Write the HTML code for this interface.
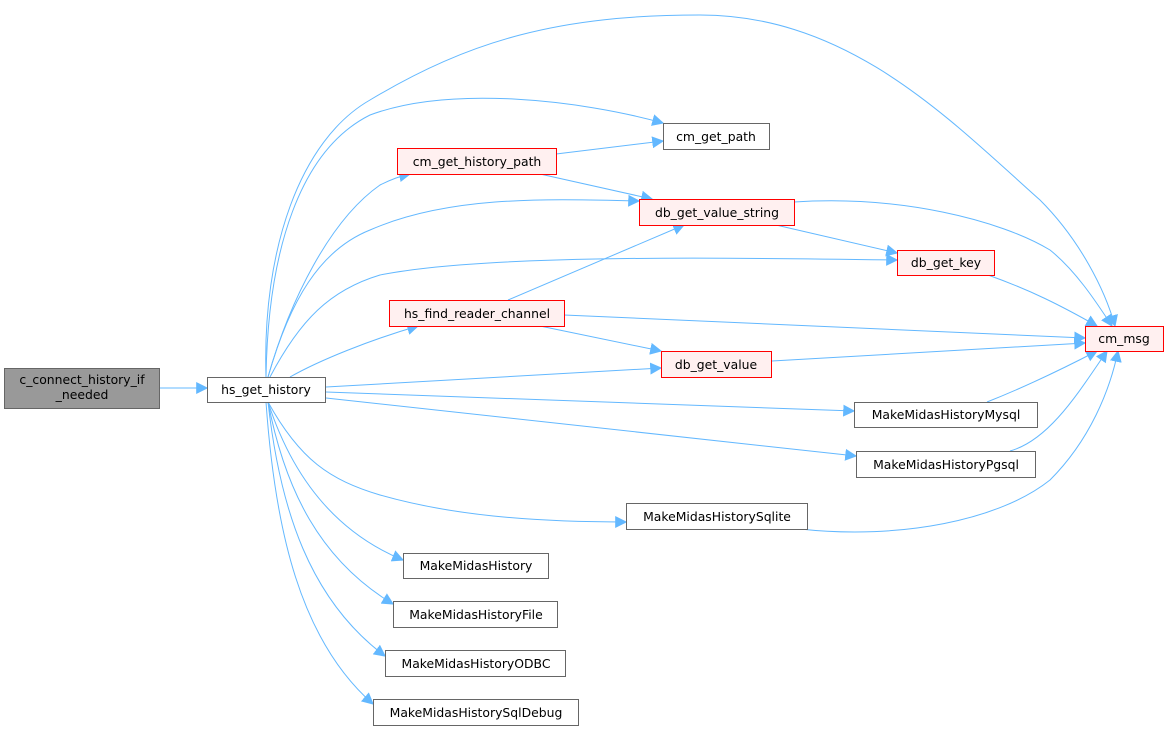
<!DOCTYPE html>
<html><head><meta charset="utf-8"><style>
body{margin:0;background:#fff;width:1168px;height:733px;overflow:hidden}
svg{display:block}
text{font-family:"DejaVu Sans","Liberation Sans",sans-serif;font-size:12.4px;fill:#000}
</style></head><body>
<svg width="1168" height="733" viewBox="0 0 1168 733">
<defs><marker id="a" viewBox="0 0 10 10" refX="9" refY="5" markerWidth="12" markerHeight="12" markerUnits="userSpaceOnUse" orient="auto"><path d="M0,0 L10,5 L0,10 z" fill="#63b8ff"/></marker></defs>
<g fill="none" stroke="#63b8ff" stroke-width="1" marker-end="url(#a)">
<path d="M160,388 L207,388"/>
<path d="M266,377 C262,250 300,140 370,100 C470,40 560,15 700,15 C850,15 950,120 1040,200 C1080,240 1105,290 1115,326"/>
<path d="M266,377 C268,250 300,150 370,115 C450,85 580,100 663,123"/>
<path d="M268,377 C290,300 330,220 380,185 C390,180 400,176 410,174"/>
<path d="M268,377 C290,300 320,250 370,230 C450,195 550,199 639,201"/>
<path d="M270,377 C300,320 330,290 380,275 C480,255 700,257 897,260"/>
<path d="M290,377 C320,360 370,340 418,326"/>
<path d="M326,387 L661,368"/>
<path d="M326,392 L854,411"/>
<path d="M326,398 L856,456"/>
<path d="M268,402 C300,460 330,480 380,495 C450,515 530,522 626,522"/>
<path d="M268,402 C290,470 330,530 403,560"/>
<path d="M268,402 C285,490 320,560 393,604"/>
<path d="M268,402 C280,510 310,600 385,656"/>
<path d="M266,402 C275,530 300,640 373,704"/>
<path d="M556,154 L663,141"/>
<path d="M540,174 L652,199"/>
<path d="M508,300 L684,225"/>
<path d="M564,315 L1085,338"/>
<path d="M540,326 L661,351"/>
<path d="M794,202 C900,195 1000,220 1050,250 C1075,270 1095,300 1112,326"/>
<path d="M776,225 L897,253"/>
<path d="M988,275 C1030,290 1060,305 1097,326"/>
<path d="M772,361 L1085,343"/>
<path d="M987,402 C1030,385 1070,365 1097,351"/>
<path d="M1010,451 C1050,440 1080,390 1107,351"/>
<path d="M800,529 C900,540 1000,520 1050,480 C1090,440 1110,390 1118,351"/>
</g>
<g stroke-width="1">
<rect x="4.5" y="368.5" width="155" height="40" fill="#999" stroke="#666"/>
<text x="82" y="384" text-anchor="middle">c_connect_history_if</text>
<text x="82" y="399" text-anchor="middle">_needed</text>
<rect x="207.5" y="377.5" width="118" height="25" fill="#fff" stroke="#666"/>
<text x="266" y="394" text-anchor="middle">hs_get_history</text>
<rect x="397.5" y="148.5" width="159" height="26" fill="#fff0f0" stroke="red"/>
<text x="477" y="166" text-anchor="middle">cm_get_history_path</text>
<rect x="389.5" y="300.5" width="175" height="26" fill="#fff0f0" stroke="red"/>
<text x="477" y="318" text-anchor="middle">hs_find_reader_channel</text>
<rect x="663.5" y="123.5" width="106" height="26" fill="#fff" stroke="#666"/>
<text x="716" y="141" text-anchor="middle">cm_get_path</text>
<rect x="639.5" y="199.5" width="155" height="26" fill="#fff0f0" stroke="red"/>
<text x="717" y="217" text-anchor="middle">db_get_value_string</text>
<rect x="897.5" y="250.5" width="97" height="25" fill="#fff0f0" stroke="red"/>
<text x="946" y="267" text-anchor="middle">db_get_key</text>
<rect x="1085.5" y="326.5" width="78" height="25" fill="#fff0f0" stroke="red"/>
<text x="1124" y="343" text-anchor="middle">cm_msg</text>
<rect x="661.5" y="351.5" width="110" height="26" fill="#fff0f0" stroke="red"/>
<text x="716" y="369" text-anchor="middle">db_get_value</text>
<rect x="854.5" y="402.5" width="183" height="25" fill="#fff" stroke="#666"/>
<text x="946" y="419" text-anchor="middle">MakeMidasHistoryMysql</text>
<rect x="856.5" y="451.5" width="179" height="26" fill="#fff" stroke="#666"/>
<text x="946" y="469" text-anchor="middle">MakeMidasHistoryPgsql</text>
<rect x="626.5" y="503.5" width="181" height="26" fill="#fff" stroke="#666"/>
<text x="717" y="521" text-anchor="middle">MakeMidasHistorySqlite</text>
<rect x="403.5" y="553.5" width="145" height="25" fill="#fff" stroke="#666"/>
<text x="476" y="570" text-anchor="middle">MakeMidasHistory</text>
<rect x="393.5" y="601.5" width="164" height="26" fill="#fff" stroke="#666"/>
<text x="476" y="619" text-anchor="middle">MakeMidasHistoryFile</text>
<rect x="385.5" y="650.5" width="180" height="26" fill="#fff" stroke="#666"/>
<text x="476" y="668" text-anchor="middle">MakeMidasHistoryODBC</text>
<rect x="373.5" y="699.5" width="205" height="26" fill="#fff" stroke="#666"/>
<text x="476" y="717" text-anchor="middle">MakeMidasHistorySqlDebug</text>
</g>
</svg>
</body></html>
